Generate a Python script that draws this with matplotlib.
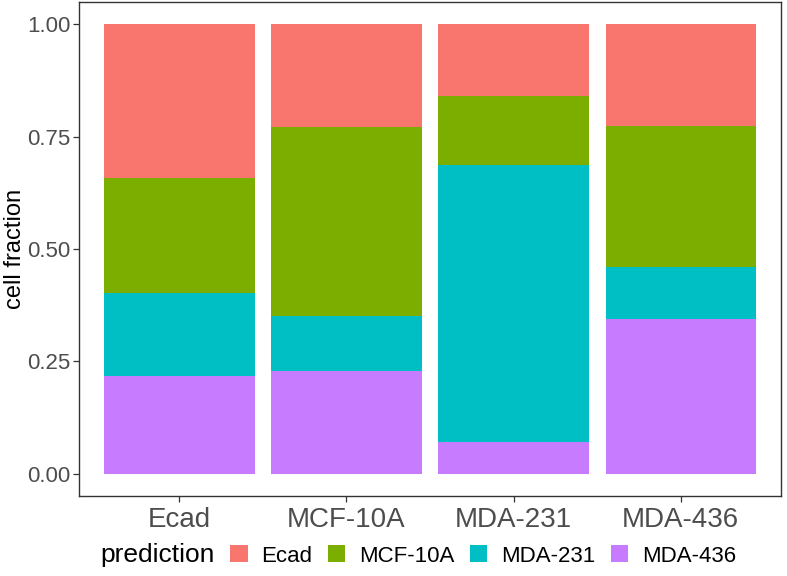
import numpy as np
import matplotlib
matplotlib.use("Agg")
import matplotlib.pyplot as plt
from matplotlib.patches import Patch

plt.rcParams["font.family"] = ["Liberation Sans", "DejaVu Sans"]

# ------------------------------------------------------------
# DATA
# ------------------------------------------------------------
samples = ["Ecad", "MCF-10A", "MDA-231", "MDA-436"]
predictions = ["Ecad", "MCF-10A", "MDA-231", "MDA-436"]

frac_ecad = [0.341, 0.229, 0.160, 0.225]
frac_mcf10a = [0.258, 0.421, 0.154, 0.314]
frac_mda231 = [0.183, 0.121, 0.615, 0.116]
frac_mda436 = [0.218, 0.229, 0.071, 0.345]

colors = ["#F8766D", "#7CAE00", "#00BFC4", "#C77CFF"]
yticks = [0.00, 0.25, 0.50, 0.75, 1.00]


def main():
    fig = plt.figure(figsize=(7.87, 5.76), dpi=100)
    ax = fig.add_axes([79 / 787, 80 / 576, (781 - 79) / 787, (574 - 80) / 576])

    x = np.arange(1, len(samples) + 1)
    # ggplot stacks the last level at the bottom
    stack = [frac_mda436, frac_mda231, frac_mcf10a, frac_ecad]
    stack_cols = colors[::-1]
    bottom = np.zeros(len(samples))
    for vals, c in zip(stack, stack_cols):
        ax.bar(x, vals, width=0.9, bottom=bottom, color=c, linewidth=0)
        bottom += np.array(vals)

    ax.set_xlim(0.4, 4.6)
    ax.set_ylim(-0.05, 1.05)
    ax.set_xticks(x)
    ax.set_xticklabels(samples, fontsize=20, color="#4D4D4D")
    ax.set_yticks(yticks)
    ax.set_yticklabels([f"{v:.2f}" for v in yticks], fontsize=16, color="#4D4D4D")
    ax.tick_params(axis="both", direction="out", length=4, width=0.9, color="#333333")
    ax.tick_params(axis="x", pad=4)
    ax.tick_params(axis="y", pad=2)
    for s in ax.spines.values():
        s.set_color("#333333")
        s.set_linewidth(1.0)
    ax.set_ylabel("cell fraction", fontsize=17, labelpad=1)

    # legend at the bottom, title on the left like ggplot
    fig.text(100 / 787, 1 - 555 / 576, "prediction", fontsize=19,
             ha="left", va="center")
    handles = [Patch(facecolor=c, edgecolor="none") for c in colors]
    fig.legend(handles, predictions, loc="center left",
               bbox_to_anchor=(230 / 787, 1 - 556 / 576), ncol=4, frameon=False,
               fontsize=16, handlelength=0.8, handleheight=0.8,
               handletextpad=0.6, columnspacing=0.7, borderaxespad=0,
               borderpad=0)

    fig.savefig("out.png", dpi=100)
    plt.close(fig)


if __name__ == "__main__":
    main()
